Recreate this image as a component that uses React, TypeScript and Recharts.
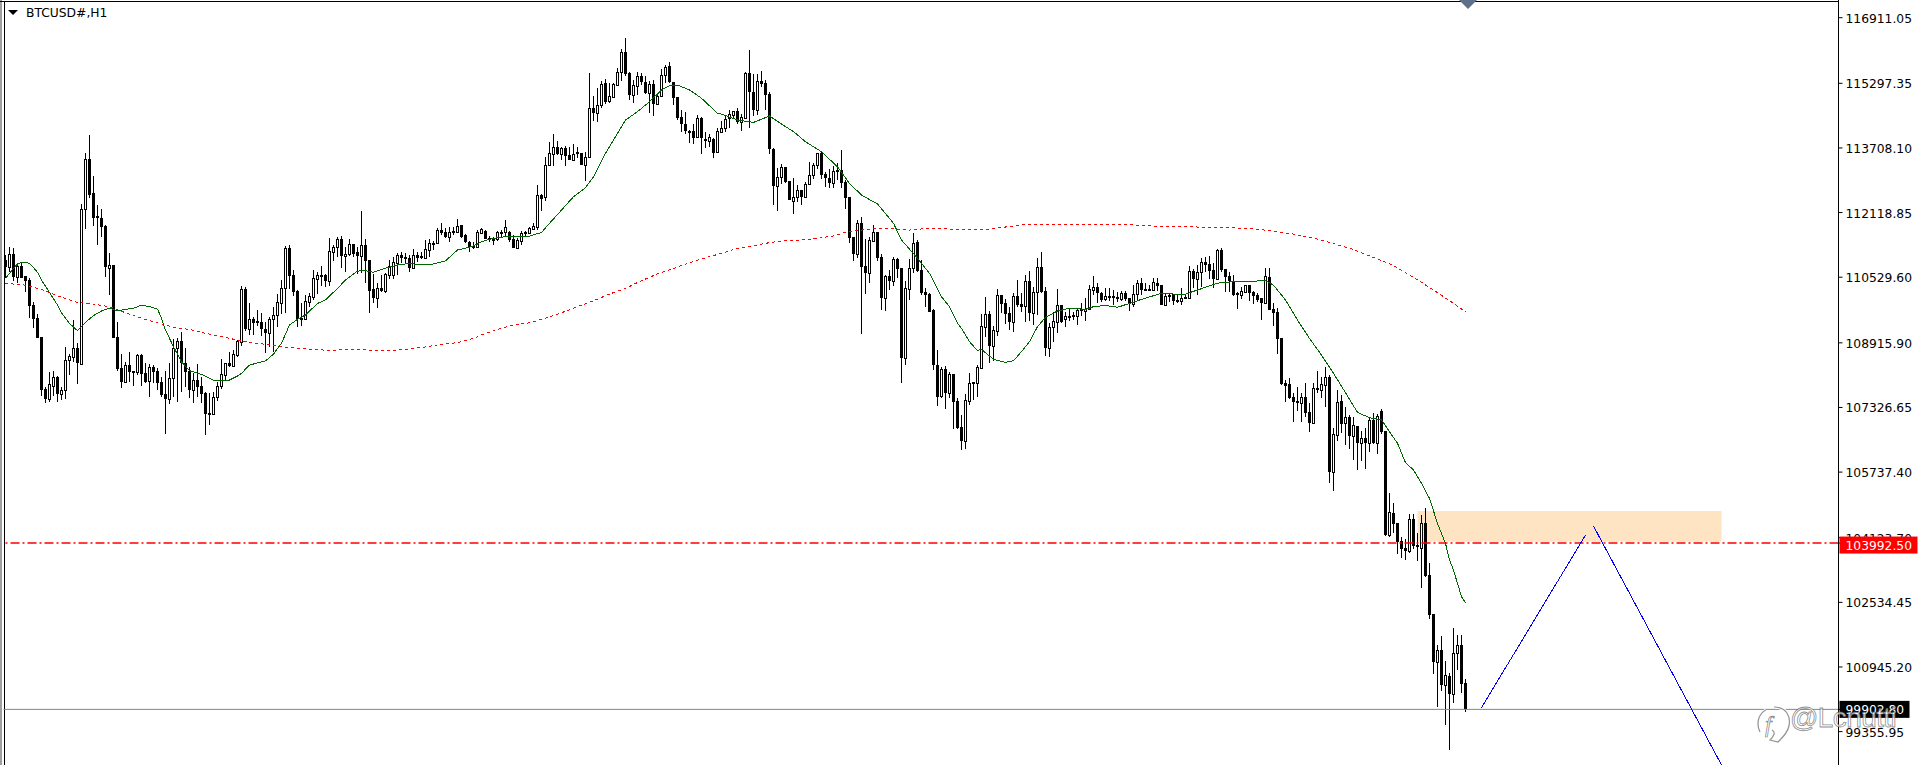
import {
  Bar,
  ComposedChart,
  Line,
  ReferenceArea,
  ReferenceLine,
  XAxis,
  YAxis,
} from "recharts";

const WIDTH = 1919;
const HEIGHT = 765;
const FONT = '"DejaVu Sans", sans-serif';

type Candle = [number, number, number, number]; // open, high, low, close

const slideFromOpen: Candle[] = [
  [110950,111075,110500,110790],[110790,111265,110665,111100],[111100,111240,110445,110540],[110540,110870,110395,110805],
  [110805,110870,110500,110520],[110560,110565,110175,110445],[110460,110500,109535,109830],[109845,109930,109290,109510],
  [109520,109615,109035,109040],[109050,109050,107615,107755],[107770,107835,107445,107525],[107525,108205,107470,107895],
  [107860,108230,107615,108065],[108065,108100,107470,107665],[107665,107835,107510,107745],[107745,108805,107540,108485],
  [108485,108640,108125,108585],[108575,109470,108450,108780],[108780,108905,107910,108410],[108395,112330,108370,112200],
  [112200,113575,111725,113430],[113430,114025,112475,112560],[112590,113020,111795,111995],[112025,112295,111320,111995],
  [111975,112200,111525,111770],[111790,111815,110540,110790],[110765,111115,110090,110820],[110830,110830,109025,109040],
  [109050,109420,108230,108270],[108295,108640,107815,107960],[107960,108450,107935,108360],[108370,108680,107960,108190],
  [108225,108225,107860,108190],[108205,108640,108125,108615],[108615,108640,107860,108155],[108175,108410,107920,107960],
  [107985,108395,107590,108315],[108315,108370,107920,108205],[108230,108290,107755,107935],[107950,108085,107590,107630],
  [107655,108225,106680,107540],[107540,108410,107420,108040],[108040,109000,107590,108780],[108780,109025,107470,108960],
  [108960,109175,107715,108410],[108410,108795,107835,108205],[108215,108315,107550,107765],[107765,108165,107425,107995],
  [108000,108385,107590,107835],[107855,108085,107445,107665],[107675,107715,106655,107175],[107180,107675,106905,107170],
  [107175,107715,107140,107575],[107575,107960,107495,107845],[107845,108510,107790,108140],[108125,108410,108000,108410],
  [108410,108700,108330,108345],[108345,108740,108315,108630],[108615,108985,108575,108960],
];

const recoveryRise: Candle[] = [
  [108945,110315,108845,110230],[110230,110280,109215,109265],[109250,109885,109110,109495],[109500,109560,109110,109410],
  [109450,109725,109330,109395],[109420,109640,109085,109250],[109250,109435,108675,109165],[109165,109560,108820,109495],
  [109495,109805,108700,109590],[109590,110115,109315,109910],[109885,110460,109625,110255],[110270,111305,109640,111240],
  [111240,111320,110240,110565],[110585,110705,110075,110175],[110190,110215,109315,109495],[109520,109885,109330,109485],
  [109510,110090,109475,109935],[109930,110135,109805,110065],[110050,110705,109970,110500],[110495,110665,110115,110575],
  [110575,110815,110315,110535],[110575,110610,110280,110445],[110445,111485,110315,111165],[111150,111320,110935,111265],
  [111265,111525,111020,111470],[111470,111545,110750,111060],[111045,111265,110655,111090],[111090,111470,111060,111340],
  [111340,111340,111035,111100],[111140,111280,110610,111060],[111060,112155,110625,111320],[111320,111460,110380,110935],
  [110945,110950,109655,110200],[110240,110610,109885,110025],[110025,110380,109780,110255],[110255,110585,110175,110200],
  [110200,110640,110150,110610],[110585,110950,110475,110815],[110590,111035,110475,110895],[110885,111115,110575,111075],
  [111065,111140,110885,111010],[111020,111115,110870,110975],[110995,111075,110665,110765],[110750,111215,110730,111075],
  [111075,111155,110910,111010],[111050,111155,110970,111010],[111010,111445,111010,111215],[111200,111460,111035,111360],
  [111380,111430,111200,111360],[111360,111730,111355,111680],[111680,111855,111565,111615],[111650,111730,111485,111525],
  [111525,111755,111405,111635],[111665,111755,111565,111635],[111650,111955,111610,111780],[111805,111815,111485,111525],
  [111575,111585,111360,111405],[111405,111430,111155,111265],[111305,111405,111225,111270],[111270,111690,111240,111635],
];

const runToHigh: Candle[] = [
  [111610,111730,111590,111705],[111675,111690,111460,111475],[111485,111540,111395,111445],[111475,111525,111320,111445],
  [111460,111665,111430,111630],[111640,111690,111485,111610],[111630,111935,111510,111755],[111630,111655,111405,111445],
  [111460,111565,111240,111245],[111255,111485,111245,111445],[111420,111665,111320,111610],[111630,111675,111525,111610],
  [111610,111770,111590,111730],[111725,111855,111705,111790],[111770,112795,111690,112550],[112550,112575,112165,112450],
  [112495,113495,112410,113280],[113280,113845,113265,113575],[113560,114050,113265,113725],[113725,113885,113535,113560],
  [113560,113740,113410,113700],[113705,113755,113265,113520],[113535,113740,113410,113420],[113420,113805,113410,113560],
  [113600,113740,113450,113565],[113585,113590,113290,113295],[113295,113615,112905,113495],[113495,115540,113475,114680],
  [114680,114985,114380,114560],[114560,115175,114355,114755],[114765,115360,114700,115270],[115315,115395,114790,114845],
  [114860,115295,114820,114985],[114970,115295,114930,115280],[115265,115665,115260,115565],[115565,116140,115360,116060],
  [116060,116405,115475,115520],[115550,115585,114885,115020],[115020,115380,114820,115245],[115240,115565,115010,115470],
  [115470,115540,115255,115335],[115335,115485,115025,115065],[115065,115360,114575,115280],[115280,115380,114500,114790],
  [114790,115050,114765,114995],[114985,115640,114970,115500],[115495,115745,115295,115705],[115725,115815,115295,115320],
  [115335,115340,114765,114945],[114950,114970,114395,114445],[114460,114640,114110,114295],[114295,114600,114050,114125],
  [114130,114150,113835,114110],[114125,114295,113795,113960],[113970,114520,113945,114435],[114435,114460,113560,113960],
  [113930,114110,113715,113885],[113885,114050,113725,113970],[113920,113945,113470,113590],[113610,114190,113590,114115],
];

const firstBreakdown: Candle[] = [
  [114110,114370,114085,114190],[114190,114520,114110,114410],[114435,114640,114205,114535],[114520,114625,114435,114610],
  [114610,114680,114290,114345],[114355,114540,114130,114460],[114450,115565,114445,115540],[115540,116115,114205,115075],
  [115075,115520,114495,114640],[114640,115520,114520,115355],[115360,115600,115215,115280],[115295,115380,114640,115020],
  [115025,115090,113560,113690],[113680,113700,112305,112780],[112780,113205,112155,112985],[112985,113315,112820,113230],
  [113240,113245,112835,112880],[112895,112900,112425,112430],[112410,112960,112085,112495],[112495,112795,112380,112665],
  [112665,112675,112305,112495],[112495,112860,112475,112815],[112815,113370,112795,113035],[113035,113330,112935,113290],
  [113280,113590,113190,113575],[113575,113615,112935,113050],[113065,113125,112745,112975],[112960,113180,112730,112855],
  [112855,113265,112715,113140],[113155,113330,112920,113130],[113155,113655,112715,112855],[112860,112920,112215,112485],
  [112495,112510,111380,111500],[111510,111525,110935,111100],[111090,111935,111010,111855],[111855,112000,109140,110790],
  [110795,111460,110115,110640],[110640,111525,110395,111435],[111420,111805,111405,111630],[111630,111650,110925,111010],
  [111020,111090,109720,110025],[110025,110585,109705,110550],[110550,110705,110215,110435],[110445,111020,110315,110970],
  [110975,111010,110515,110740],[110745,110755,107935,108550],[108550,110435,108370,110255],[110245,110970,109970,110765],
  [110765,111610,110640,111360],[111395,111445,110650,110680],[110705,110950,110090,110130],[110175,110255,109805,110090],
  [110115,110130,109665,109680],[109720,109740,108245,108370],[108370,108740,107370,107590],[107610,108330,107565,108270],
  [108270,108345,107290,107690],[107690,108205,107550,108150],[108150,108150,106790,107470],[107485,107550,106790,106815],
];

const consolidation: Candle[] = [
  [106835,107140,106280,106500],[106500,107660,106295,107510],[107495,108175,107380,107935],[107955,107955,107510,107915],
  [107920,108370,107590,108330],[108305,109625,108270,109320],[109310,110050,109065,109615],[109625,109700,108425,108840],
  [108845,109330,108475,109230],[109215,110230,109085,110090],[110090,110095,109655,109870],[109905,109985,109380,109625],
  [109640,109790,109230,109430],[109430,110140,109190,110065],[110065,110460,109790,109840],[109870,110140,109680,109790],
  [109830,110585,109435,110435],[110435,110680,109460,109655],[109655,110295,109355,110160],[110160,111010,109600,110775],
  [110775,111140,110135,110175],[110190,110280,108590,108795],[108795,109410,108575,109300],[109300,109680,108945,109455],
  [109430,110230,109150,109840],[109840,109845,109410,109435],[109495,109680,109315,109575],[109575,109765,109460,109555],
  [109610,109680,109475,109560],[109585,109765,109355,109725],[109740,109890,109575,109705],[109705,110010,109460,109755],
  [109755,110340,109740,110230],[110215,110560,110090,110290],[110280,110380,109905,110135],[110135,110175,109915,109970],
  [109995,110255,109950,110060],[110065,110255,109950,110050],[110065,110215,109845,110025],[110035,110175,109925,110020],
  [109995,110200,109950,110140],[110150,110190,109950,109995],[110010,110015,109705,109890],[109870,110340,109790,110115],
  [110110,110460,109970,110380],[110395,110505,110090,110215],[110230,110380,110200,110215],[110230,110340,110200,110215],
  [110215,110515,110200,110410],[110395,110515,110200,110315],[110340,110340,109850,109855],[109855,110135,109840,110075],
  [110090,110135,109925,110075],[110115,110120,109845,109935],[109960,110090,109890,109945],[109945,110255,109840,110010],
  [110050,110090,109985,110000],[110010,110805,109995,110680],[110690,110725,110255,110485],[110485,110830,110090,110650],
  [110665,110995,110295,110895],[110905,111020,110665,110835],[110860,111050,110485,110690],[110705,110870,110255,110480],
  [110480,111215,110460,111200],
];

const finalSelloff: Candle[] = [
  [111200,111240,110665,110705],[110725,110730,110175,110540],[110560,110665,110175,110430],[110420,110585,110065,110090],
  [110135,110175,109740,110110],[110100,110280,109995,110190],[110175,110340,110150,110330],[110340,110340,109945,110150],
  [110175,110200,109865,110065],[110090,110150,109930,109970],[110010,110015,109475,109905],[109905,110750,109890,110560],
  [110525,110750,109720,109725],[109740,109890,109330,109655],[109675,109765,108640,109015],[109025,109035,107880,107905],
  [107920,108000,107460,107860],[107895,108045,107535,107560],[107575,107690,106975,107470],[107480,107820,107245,107445],
  [107445,107690,106975,107575],[107575,107920,107085,107190],[107210,107430,106730,106950],[106950,107920,106935,107800],
  [107800,108230,107690,107765],[107765,108070,107550,107895],[107885,108330,107345,108075],[108075,108125,105460,105730],
  [105730,106815,105280,106675],[106650,107755,106510,107455],[107485,107635,106690,106920],[106945,107345,106405,107085],
  [107085,107140,106305,106630],[106630,107100,106035,106890],[106870,106875,105790,106460],[106460,106750,106015,106570],
  [106570,106815,105815,106445],[106460,107100,106240,107020],[107020,107200,106430,106445],[106460,107165,106180,107125],
  [107240,107280,106675,106730],[106740,106745,104165,104190],[104190,105215,104150,104750],[104725,104970,104230,104460],
  [104480,104485,103725,104025],[104045,104135,103615,103845],[103865,104085,103575,103795],[103795,104700,103755,104575],
  [104575,104700,103840,103925],[103945,104230,103550,103905],[103880,104680,102895,104480],[104480,104845,103165,103180],
  [103205,103495,102125,102225],[102240,102245,100770,101075],[101075,101485,99970,101355],[101355,101705,100360,100500],
  [100500,101090,99520,100740],[100725,100805,98905,100290],[100290,101895,100050,101280],[101280,101730,100870,101480],
  [101480,101730,100300,100535],[100545,100650,99845,99903],
];

// [bar number, value]
const fastAverage: [number, number][] = [
  [0,110500],[2,110745],[3,110855],[4,110895],[5,110895],[6,110870],[7,110765],[8,110650],[9,110460],[11,110155],
  [13,109845],[14,109655],[16,109395],[18,109215],[19,109315],[20,109420],[22,109585],[24,109700],[26,109765],[28,109700],
  [30,109740],[32,109765],[34,109845],[36,109805],[38,109745],[39,109520],[40,109230],[42,108820],[44,108450],[46,108230],
  [49,108140],[52,108000],[54,107985],[56,108000],[58,108100],[59,108165],[61,108370],[65,108470],[67,108640],[69,108905],
  [71,109355],[73,109495],[75,109600],[78,109885],[80,109970],[83,110255],[85,110460],[88,110680],[90,110690],[92,110650],
  [95,110750],[98,110830],[101,110870],[104,110830],[107,110855],[110,110930],[113,111200],[116,111265],[118,111345],[119,111405],
  [122,111485],[125,111525],[128,111525],[131,111540],[134,111630],[136,111855],[139,112180],[142,112510],[145,112730],[147,113000],
  [150,113575],[153,114065],[155,114395],[158,114600],[161,114845],[164,115135],[166,115240],[168,115255],[171,115135],[174,114930],
  [178,114560],[179,114540],[183,114395],[187,114335],[191,114495],[194,114295],[197,114110],[200,113860],[204,113615],[208,113245],
  [211,112835],[214,112550],[218,112330],[222,111855],[224,111445],[228,110995],[231,110625],[234,110050],[236,109805],[238,109395],
  [239,109270],[241,108945],[243,108725],[244,108755],[247,108510],[250,108435],[252,108475],[254,108700],[256,108945],[258,109315],
  [260,109540],[263,109700],[266,109765],[270,109740],[272,109805],[275,109835],[278,109790],[281,109885],[284,109985],[287,110075],
  [289,110135],[292,110115],[295,110115],[298,110215],[301,110315],[303,110380],[304,110405],[309,110420],[315,110445],[317,110335],
  [320,109970],[323,109475],[326,109025],[329,108615],[332,108165],[335,107690],[338,107205],[341,107075],[344,107020],[346,106730],
  [348,106445],[350,105970],[352,105790],[354,105460],[356,105090],[358,104475],[360,103985],[361,103575],[362,103330],[363,103000],
  [364,102675],[365,102525],
];

// [bar number, value]
const slowAverage: [number, number][] = [
  [0,110380],[5,110335],[9,110230],[13,110075],[18,109910],[22,109870],[26,109805],[30,109655],[34,109520],[38,109410],
  [42,109295],[46,109245],[50,109150],[54,109065],[58,108985],[61,108920],[65,108880],[69,108820],[73,108780],[77,108755],
  [81,108730],[85,108755],[89,108750],[93,108725],[97,108725],[101,108765],[105,108815],[109,108880],[113,108920],[117,109025],
  [119,109110],[123,109245],[127,109355],[131,109410],[135,109520],[139,109655],[143,109805],[147,109950],[151,110115],[155,110255],
  [159,110445],[163,110610],[167,110745],[171,110885],[175,111010],[179,111115],[183,111240],[187,111305],[191,111380],[195,111430],
  [199,111445],[203,111485],[207,111545],[210,111635],[214,111690],[218,111725],[222,111715],[226,111690],[230,111725],[234,111725],
  [238,111705],[246,111715],[255,111825],[264,111825],[273,111825],[280,111825],[289,111775],[305,111755],[312,111720],[317,111665],
  [322,111590],[327,111495],[332,111355],[337,111210],[342,111015],[347,110820],[352,110525],[357,110215],[362,109885],[365,109680],
];

const drawnRise: [number, number][] = [[369,99945],[395,104190]];
const drawnFall: [number, number][] = [[397,104410],[429,98535]];

const priceTicks = [
  116911.05, 115297.35, 113708.1, 112118.85, 110529.6, 108915.9, 107326.65,
  105737.4, 104123.7, 102534.45, 100945.2, 99355.95,
];
const LEVEL = 103992.5;
const LAST = 99902.8;
const ZONE_TOP = 104780;
const ZONE_BOTTOM = 104025;
const ZONE_FROM = 353;
const ZONE_TO = 429;
const PRICE_MIN = 98535;
const PRICE_MAX = 117346;
const LAST_BAR = 429;

const candles = [
  ...slideFromOpen,
  ...recoveryRise,
  ...runToHigh,
  ...firstBreakdown,
  ...consolidation,
  ...finalSelloff,
];

const rows = Array.from({ length: LAST_BAR + 1 }, (_, i) => {
  const c = candles[i];
  const at = (list: [number, number][]) => list.find((p) => p[0] === i)?.[1] ?? null;
  return {
    i,
    open: c ? c[0] : null,
    high: c ? c[1] : null,
    low: c ? c[2] : null,
    close: c ? c[3] : null,
    fast: at(fastAverage),
    slow: at(slowAverage),
    rise: at(drawnRise),
    fall: at(drawnFall),
  };
});

function CandleShape(props: any) {
  const { x, y, width, height, payload } = props;
  if (!payload || payload.open == null) return null;
  const top = Math.min(y, y + height);
  const k = Math.abs(height) / (payload.high - payload.low);
  const yOf = (p: number) => Math.round(top + (payload.high - p) * k);
  const cx = Math.floor(x + width / 2) + 0.5;
  const up = payload.close >= payload.open;
  const bodyTop = yOf(Math.max(payload.open, payload.close));
  const bodyBottom = yOf(Math.min(payload.open, payload.close));
  return (
    <g shapeRendering="crispEdges">
      <line x1={cx} x2={cx} y1={yOf(payload.high)} y2={yOf(payload.low)} stroke="#000" />
      {up ? (
        <rect x={cx - 1} y={bodyTop + 0.5} width={2} height={Math.max(bodyBottom - bodyTop, 1)} fill="#fff" stroke="#000" />
      ) : (
        <rect x={cx - 1.5} y={bodyTop} width={3} height={Math.max(bodyBottom - bodyTop, 2)} fill="#000" />
      )}
    </g>
  );
}

function PriceTick(props: any) {
  const { x, y, payload } = props;
  const v = payload.value;
  const label = v.toFixed(2);
  if (v === LEVEL || v === LAST) {
    const red = v === LEVEL;
    return (
      <g>
        <rect x={x - 6} y={red ? y - 6.5 : y - 8.5} width={red ? 78 : 70} height={17} fill={red ? "#ff0000" : "#000"} />
        <text x={x} y={red ? y + 7 : y + 5} fill="#fff" fontSize={12.3} fontFamily={FONT}>{label}</text>
      </g>
    );
  }
  return <text x={x} y={y + 5} fill="#000" fontSize={12.3} fontFamily={FONT}>{label}</text>;
}

export default function App() {
  return (
    <div style={{ position: "absolute", left: 0, top: 0, width: WIDTH, height: HEIGHT, background: "#fff", overflow: "hidden" }}>
      <div style={{ position: "absolute", left: 0, top: 0, width: 2, height: HEIGHT, background: "#a0a0a0" }} />
      <div style={{ position: "absolute", left: 4, top: 1, width: 1, height: HEIGHT, background: "#000" }} />
      <div style={{ position: "absolute", left: 0, top: 1, width: 1839, height: 1, background: "#000" }} />
      <ComposedChart
        width={WIDTH}
        height={HEIGHT}
        data={rows}
        margin={{ top: 0, right: 0, left: 3.5, bottom: 0 }}
        style={{ position: "absolute", left: 0, top: 0 }}
      >
        <XAxis dataKey="i" type="number" domain={[-0.5, 458.25]} hide allowDataOverflow />
        <YAxis
          orientation="right"
          width={80.5}
          domain={[PRICE_MIN, PRICE_MAX]}
          ticks={[...priceTicks, LEVEL, LAST]}
          interval={0}
          allowDataOverflow
          axisLine={{ stroke: "#000" }}
          tickLine={{ stroke: "#000" }}
          tickSize={4}
          tickMargin={3}
          tick={<PriceTick />}
        />
        <ReferenceArea x1={ZONE_FROM} x2={ZONE_TO} y1={ZONE_BOTTOM} y2={ZONE_TOP} fill="#ffe4c4" fillOpacity={1} stroke="none" />
        <ReferenceLine y={LAST} stroke="#778899" strokeWidth={1} />
        <Bar dataKey={(r: any) => (r.open == null ? null : [r.low, r.high])} barSize={3} shape={<CandleShape />} isAnimationActive={false} />
        <ReferenceLine y={LEVEL} stroke="#ff0000" strokeWidth={1.4} strokeDasharray="9 3 2 3" />
        <Line dataKey="slow" stroke="#ff0000" strokeWidth={1} strokeDasharray="3 3" shapeRendering="crispEdges" dot={false} connectNulls isAnimationActive={false} />
        <Line dataKey="fast" stroke="#006400" strokeWidth={1} shapeRendering="crispEdges" dot={false} connectNulls isAnimationActive={false} />
        <Line dataKey="rise" stroke="#0000ff" strokeWidth={1} shapeRendering="crispEdges" dot={false} connectNulls isAnimationActive={false} />
        <Line dataKey="fall" stroke="#0000ff" strokeWidth={1} shapeRendering="crispEdges" dot={false} connectNulls isAnimationActive={false} />
      </ComposedChart>
      <div style={{ position: "absolute", left: 8, top: 10, width: 0, height: 0, borderLeft: "5.5px solid transparent", borderRight: "5.5px solid transparent", borderTop: "5.5px solid #000" }} />
      <div style={{ position: "absolute", left: 26, top: 5, font: `12.3px ${FONT}`, lineHeight: "16px", color: "#000" }}>BTCUSD#,H1</div>
      <div style={{ position: "absolute", left: 1459, top: 0, width: 0, height: 0, borderLeft: "9.5px solid transparent", borderRight: "9.5px solid transparent", borderTop: "9px solid #5f7088" }} />
      <svg width={40} height={46} style={{ position: "absolute", left: 1752, top: 702 }}>
        <path d="M22 5 C34 5 39 14 37 24 C35 32 30 36 26 40 L18 38 C22 34 24 30 20 28 M14 8 C6 12 4 22 8 30" fill="none" stroke="#fff" strokeWidth={3} />
        <path d="M22 5 C34 5 39 14 37 24 C35 32 30 36 26 40 L18 38 C22 34 24 30 20 28 M14 8 C6 12 4 22 8 30" fill="none" stroke="rgba(110,110,110,.75)" strokeWidth={1.2} />
        <text x={13} y={30} fontSize={24} fontStyle="italic" fontFamily="Liberation Serif, serif" fill="#fff" stroke="rgba(90,90,90,.8)" strokeWidth={0.7}>f</text>
      </svg>
      <div style={{ position: "absolute", left: 1790, top: 700, font: `28px "Liberation Sans", sans-serif`, lineHeight: "36px", color: "rgba(255,255,255,.72)", WebkitTextStroke: "0.8px rgba(90,90,90,.7)", letterSpacing: "-0.6px" }}>@Lcnutti</div>
    </div>
  );
}
